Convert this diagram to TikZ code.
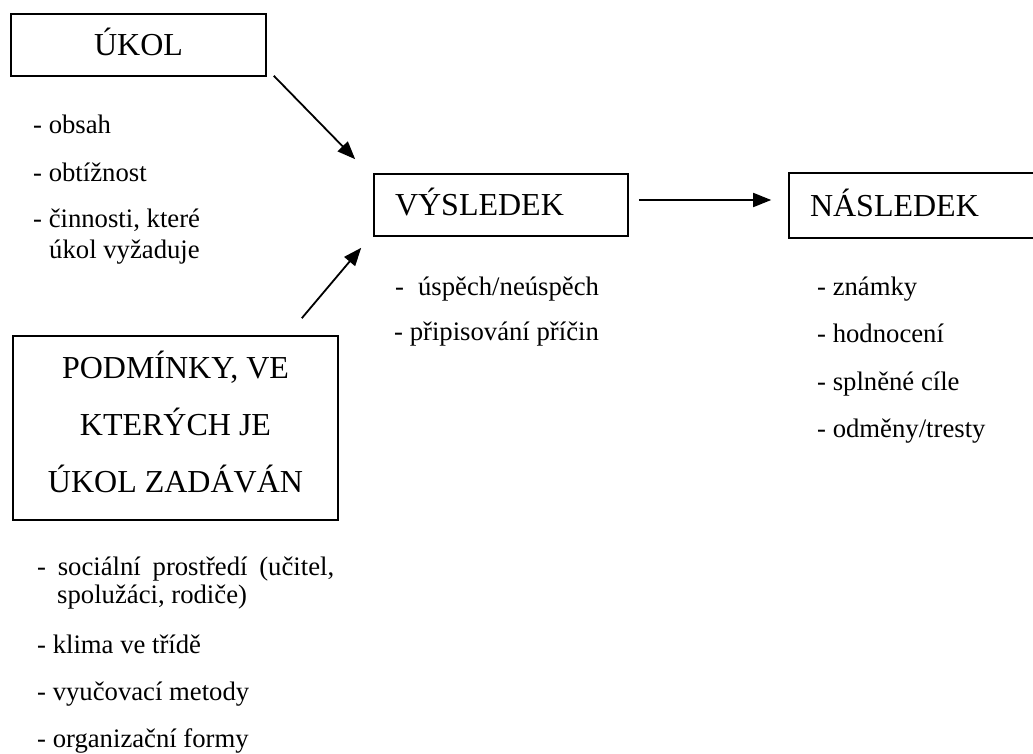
\documentclass[tikz,border=0pt]{standalone}
\usepackage{fontspec}
\setmainfont{Liberation Serif}
\usetikzlibrary{arrows.meta}
\tikzset{
  boxnode/.style={draw, line width=1.6pt, inner sep=0pt, text height=21.2pt, text depth=0pt,
    font=\fontsize{32}{38}\selectfont},
  titleline/.style={inner sep=0pt, anchor=base, font=\fontsize{32}{38}\selectfont},
  item/.style={inner sep=0pt, anchor=base west, font=\fontsize{26.7}{30}\selectfont},
  arr/.style={line width=1.8pt, -{Triangle[length=18pt,width=14pt]}},
}
\begin{document}
\begin{tikzpicture}[x=1pt,y=-1pt]
\useasboundingbox (0,0) rectangle (1033,754);
\fill[white] (0,0) rectangle (1033,754);
\clip (0,0) rectangle (1033,754);

% boxes
\node[boxnode, minimum width=255pt, minimum height=62pt] (ukol) at (138.5,45) {ÚKOL};
\node[boxnode, minimum width=254pt, minimum height=62pt, inner xsep=21pt, text width=212pt, align=left] (vysledek) at (501,205) {VÝSLEDEK};
\node[boxnode, minimum width=256pt, minimum height=65pt, inner xsep=21pt, text width=214pt, align=left] (nasledek) at (917,205.5) {NÁSLEDEK};
\node[draw, line width=1.6pt, inner sep=0pt, minimum width=325pt, minimum height=184pt] (podm) at (175.5,428) {};
\node[titleline] (p1) at (175.5,378) {PODMÍNKY, VE};
\node[titleline] (p2) at (175.5,435) {KTERÝCH JE};
\node[titleline] (p3) at (175.5,492) {ÚKOL ZADÁVÁN};

% arrows
\draw[arr] ([shift={(7,-1)}]ukol.south east) -- ([shift={(-18,-14)}]vysledek.north west);
\draw[arr] ([shift={(-37,-17)}]podm.north east) -- ([shift={(-12,11)}]vysledek.south west);
\draw[arr] ([shift={(10,-5)}]vysledek.east) -- ([shift={(-17,-5.5)}]nasledek.west);

% lists
\node[item] (u1) at (33,134) {- obsah};
\node[item] (u2) at (33,182) {- obtížnost};
\node[item] (u3) at (33,228) {- činnosti, které};
\node[item] (u4) at (49,258) {úkol vyžaduje};

\node[item] (v1) at (395,295) {-\hspace{14pt}úspěch/neúspěch};
\node[item] (v2) at (394,340) {- připisování příčin};

\node[item] (n1) at (817,295) {- známky};
\node[item] (n2) at (817,342) {- hodnocení};
\node[item] (n3) at (817,390) {- splněné cíle};
\node[item] (n4) at (817,437) {- odměny/tresty};

\node[item] (s1) at (37,575) {\makebox[297pt][s]{- sociální prostředí (učitel,}};
\node[item] (s2) at (57,603) {spolužáci, rodiče)};
\node[item] (s3) at (37,653) {- klima ve třídě};
\node[item] (s4) at (37,700) {- vyučovací metody};
\node[item] (s5) at (37,747) {- organizační formy};
\end{tikzpicture}
\end{document}
